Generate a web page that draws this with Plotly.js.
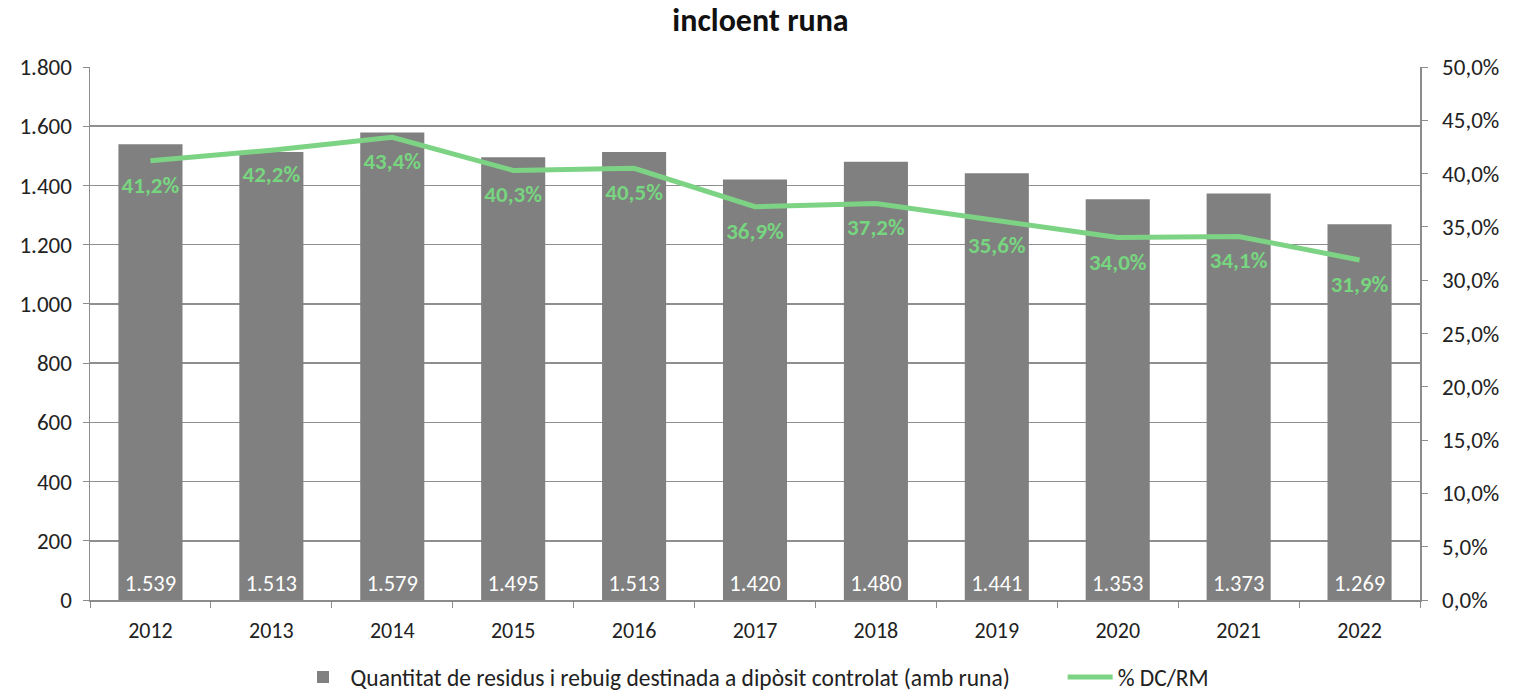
<!DOCTYPE html>
<html>
<head>
<meta charset="utf-8">
<script src="https://cdn.plot.ly/plotly-3.0.1.min.js"></script>
<style>html,body{margin:0;padding:0;background:#fff;}#chart{width:1521px;height:691px;}</style>
</head>
<body>
<div id="chart"></div>
<script>
const years = ['2012','2013','2014','2015','2016','2017','2018','2019','2020','2021','2022'];
const quantitat = [1539,1513,1579,1495,1513,1420,1480,1441,1353,1373,1269];
const pctDCRM = [0.412,0.422,0.434,0.403,0.405,0.369,0.372,0.356,0.340,0.341,0.319];
const barName = 'Quantitat de residus i rebuig destinada a dipòsit controlat (amb runa)';
const lineName = '% DC/RM';
const titleText = 'incloent runa';

const fontFam = "Carlito, Calibri, 'Liberation Sans Narrow', 'Open Sans', sans-serif";
const gap = '\u00a0\u00a0\u00a0\u00a0\u00a0\u00a0\u00a0\u00a0\u00a0';

const traces = [
  {
    type: 'bar', x: years, y: quantitat, name: barName + gap,
    marker: {color: '#808080'},
    width: 0.53,
    texttemplate: '%{y:,d}', textposition: 'inside', insidetextanchor: 'start',
    textfont: {color: '#ffffff', size: 22.5, family: fontFam},
    cliponaxis: false, hoverinfo: 'x+y'
  },
  {
    type: 'scatter', mode: 'lines+markers+text', x: years, y: pctDCRM, name: lineName,
    yaxis: 'y2',
    line: {color: '#7dd384', width: 5},
    marker: {size: 22, color: 'rgba(0,0,0,0)'},
    texttemplate: '<b>%{y:.1%}</b>', textposition: 'bottom center',
    textfont: {color: '#77d47f', size: 23, family: fontFam},
    cliponaxis: false
  }
];

const layout = {
  width: 1521, height: 691,
  margin: {l: 90, r: 101, t: 67, b: 91, autoexpand: false},
  paper_bgcolor: '#fff', plot_bgcolor: '#fff',
  separators: ',.',
  font: {family: fontFam, size: 22, color: '#222'},
  title: {text: '<b>' + titleText + '</b>', x: 0.5, xanchor: 'center', y: 0.972, yanchor: 'middle',
          font: {size: 32, color: '#111', family: fontFam}},
  showlegend: true,
  legend: {orientation: 'h', x: 0.5, xanchor: 'center', yref: 'container', y: 0.02, yanchor: 'middle',
           font: {size: 23.5, color: '#222', family: fontFam}, itemwidth: 45, tracegroupgap: 0},
  xaxis: {
    type: 'category', range: [-0.5, 10.5], showline: true, linecolor: '#8c8c8c', linewidth: 1.5,
    ticks: 'outside', tickson: 'boundaries', ticklen: 6, tickcolor: '#8c8c8c',
    ticklabelstandoff: 10,
    tickfont: {size: 22, color: '#222'}, showgrid: false, zeroline: false
  },
  yaxis: {
    range: [0, 1800], dtick: 200, tickformat: ',d',
    showline: true, linecolor: '#8c8c8c', linewidth: 1.5,
    ticks: 'outside', ticklen: 6, tickcolor: '#8c8c8c', ticklabelstandoff: 6,
    showgrid: true, gridcolor: '#8f8f8f', gridwidth: 1.5, zeroline: false,
    tickfont: {size: 23, color: '#222'}
  },
  yaxis2: {
    overlaying: 'y', side: 'right', range: [0, 0.5], dtick: 0.05, tickformat: '.1%',
    showline: true, linecolor: '#8c8c8c', linewidth: 1.5,
    ticks: 'outside', ticklen: 6, tickcolor: '#8c8c8c', ticklabelstandoff: 10,
    showgrid: false, zeroline: false,
    tickfont: {size: 23, color: '#222'}
  }
};

Plotly.newPlot('chart', traces, layout, {displayModeBar: false, staticPlot: true});
</script>
</body>
</html>
